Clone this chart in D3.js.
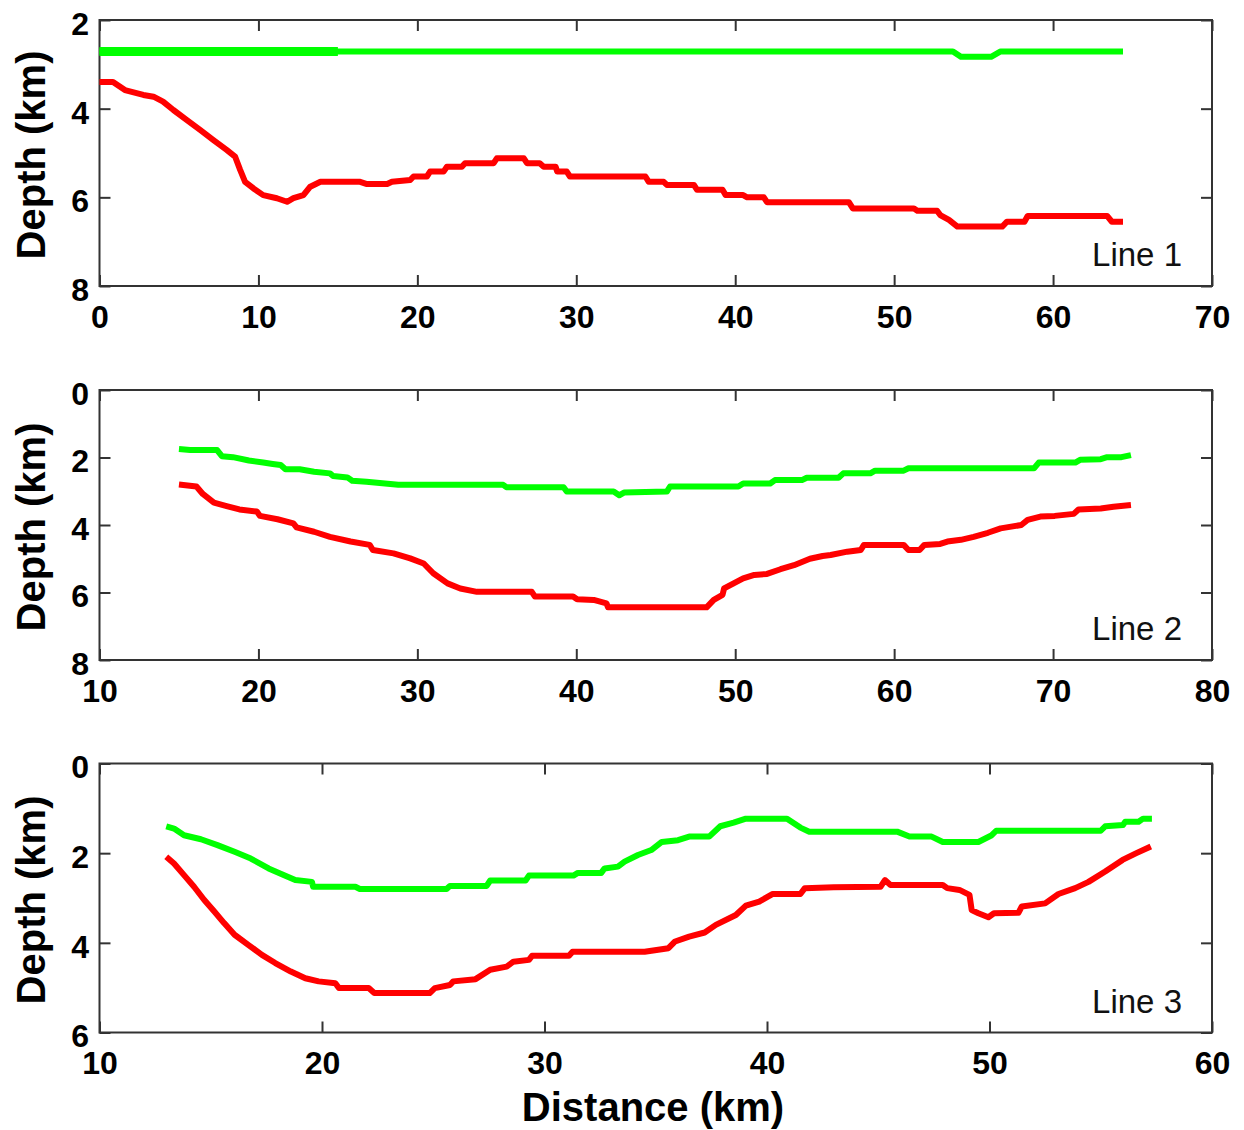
<!DOCTYPE html>
<html>
<head>
<meta charset="utf-8">
<script src="https://cdn.jsdelivr.net/npm/d3@7"></script>
<style>
  html, body { margin: 0; padding: 0; background: #fff; }
  svg { display: block; }
  .tick text { font-family: "Liberation Sans", Arial, Helvetica, sans-serif; font-weight: bold; font-size: 32px; fill: #000; }
  .tick line { stroke: #333; stroke-width: 2; }
  .axis-title { font-family: "Liberation Sans", Arial, Helvetica, sans-serif; font-weight: bold; font-size: 40px; fill: #000; }
  .line-name { font-family: "Liberation Sans", Arial, Helvetica, sans-serif; font-size: 33px; fill: #111; }
</style>
</head>
<body>
<svg id="chart" width="1244" height="1130"></svg>
<script>
// Profile names
const profileNames = ["Line 1", "Line 2", "Line 3"];

// Axis ranges and ticks (distance in km, depth in km)
const line1XTicks = [0, 10, 20, 30, 40, 50, 60, 70];
const line1YTicks = [2, 4, 6, 8];
const line2XTicks = [10, 20, 30, 40, 50, 60, 70, 80];
const line2YTicks = [0, 2, 4, 6, 8];
const line3XTicks = [10, 20, 30, 40, 50, 60];
const line3YTicks = [0, 2, 4, 6];

// Line 1: upper horizon (green) and deeper horizon (red), [distance, depth]
const line1Green = [[0,2.71],[15,2.71],[53.7,2.71],[54.2,2.83],[56.1,2.83],[56.7,2.71],[64.4,2.71]];
const line1Red = [[0,3.4],[0.85,3.4],[1.6,3.58],[2.76,3.69],[3.4,3.73],[4.0,3.84],[4.65,4.03],[5.5,4.26],[6.33,4.48],[7.17,4.71],[8.0,4.93],[8.53,5.08],[8.85,5.38],[9.16,5.65],[9.69,5.8],[10.3,5.95],[11.16,6.02],[11.8,6.1],[12.2,6.02],[12.83,5.95],[13.26,5.76],[13.9,5.65],[16.4,5.65],[16.83,5.7],[18.1,5.7],[18.4,5.65],[19.55,5.61],[19.76,5.53],[20.6,5.53],[20.8,5.42],[21.65,5.42],[21.86,5.31],[22.8,5.31],[23.0,5.23],[24.8,5.23],[25.0,5.12],[26.7,5.12],[26.9,5.23],[27.7,5.23],[27.95,5.31],[28.7,5.31],[28.8,5.42],[29.4,5.42],[29.6,5.53],[34.35,5.53],[34.56,5.65],[35.5,5.65],[35.7,5.72],[37.4,5.72],[37.6,5.83],[39.2,5.83],[39.4,5.95],[40.5,5.95],[40.75,6.0],[41.8,6.0],[42.0,6.11],[47.15,6.11],[47.4,6.25],[51.25,6.25],[51.46,6.3],[52.7,6.3],[52.9,6.4],[53.45,6.51],[53.98,6.66],[56.8,6.66],[57.1,6.55],[58.2,6.55],[58.4,6.42],[63.4,6.42],[63.7,6.55],[64.4,6.55]];
// Stretch of Line 1 green horizon traced with a heavier pen
const line1GreenHeavyEnd = 15;

// Line 2
const line2Green = [[15.0,1.75],[15.7,1.78],[17.4,1.78],[17.7,1.96],[18.4,1.99],[19.4,2.09],[20.3,2.15],[20.9,2.19],[21.4,2.22],[21.7,2.35],[22.6,2.35],[23.5,2.42],[24.5,2.47],[24.7,2.55],[25.6,2.59],[25.9,2.69],[26.8,2.72],[28.8,2.81],[35.4,2.81],[35.6,2.88],[39.2,2.88],[39.4,3.01],[42.35,3.01],[42.7,3.12],[43.0,3.04],[45.7,3.01],[45.9,2.86],[50.2,2.86],[50.5,2.77],[52.2,2.77],[52.5,2.67],[54.2,2.67],[54.5,2.6],[56.5,2.6],[56.8,2.47],[58.5,2.47],[58.8,2.39],[60.6,2.39],[60.9,2.32],[68.8,2.32],[69.1,2.15],[71.4,2.15],[71.7,2.07],[73.0,2.05],[73.4,1.99],[74.3,1.99],[74.9,1.93]];
const line2Red = [[15.0,2.8],[16.1,2.86],[16.5,3.08],[17.2,3.34],[18.0,3.44],[18.8,3.54],[19.9,3.6],[20.1,3.73],[21.2,3.83],[22.2,3.95],[22.4,4.07],[23.5,4.2],[24.5,4.35],[25.8,4.49],[27.0,4.59],[27.2,4.74],[28.5,4.84],[29.55,4.99],[30.4,5.14],[31.0,5.43],[31.9,5.73],[32.7,5.88],[33.75,5.98],[37.2,5.98],[37.4,6.12],[39.8,6.12],[40.05,6.2],[41.1,6.22],[41.9,6.32],[42.0,6.44],[48.2,6.44],[48.65,6.22],[49.2,6.07],[49.3,5.88],[49.9,5.73],[50.5,5.58],[51.2,5.48],[52.0,5.45],[52.85,5.31],[53.7,5.19],[54.7,5.0],[55.5,4.92],[56.0,4.89],[57.05,4.79],[57.9,4.74],[58.1,4.59],[60.6,4.59],[60.9,4.74],[61.6,4.74],[61.9,4.59],[62.9,4.56],[63.35,4.49],[64.2,4.44],[65.0,4.35],[65.9,4.23],[66.7,4.1],[68.0,4.0],[68.4,3.85],[69.2,3.75],[70.1,3.73],[71.3,3.67],[71.6,3.54],[73.0,3.51],[73.8,3.46],[74.9,3.41]];

// Line 3
const line3Green = [[13.0,1.4],[13.35,1.45],[13.8,1.6],[14.56,1.69],[15.3,1.82],[16.07,1.97],[16.8,2.12],[17.6,2.34],[18.3,2.49],[18.8,2.6],[19.55,2.64],[19.6,2.75],[21.5,2.75],[21.7,2.8],[25.6,2.8],[25.75,2.73],[27.4,2.73],[27.56,2.61],[29.15,2.61],[29.3,2.5],[31.3,2.5],[31.5,2.44],[32.55,2.44],[32.7,2.34],[33.3,2.3],[33.6,2.19],[34.2,2.04],[34.8,1.93],[35.27,1.75],[36.0,1.71],[36.5,1.63],[37.4,1.63],[37.9,1.4],[38.5,1.32],[39.05,1.23],[40.9,1.23],[41.5,1.43],[41.9,1.52],[45.85,1.52],[46.4,1.63],[47.4,1.63],[47.9,1.75],[49.5,1.75],[50.1,1.6],[50.3,1.5],[55.0,1.5],[55.2,1.4],[56.0,1.37],[56.1,1.3],[56.7,1.3],[56.9,1.23],[57.3,1.23]];
const line3Red = [[13.0,2.08],[13.35,2.23],[13.8,2.49],[14.25,2.75],[14.7,3.04],[15.16,3.3],[15.6,3.56],[16.07,3.82],[16.7,4.05],[17.3,4.27],[17.9,4.45],[18.6,4.64],[19.25,4.79],[19.85,4.86],[20.6,4.9],[20.76,5.01],[22.1,5.01],[22.35,5.12],[24.84,5.12],[25.07,5.01],[25.75,4.94],[25.9,4.86],[26.9,4.81],[27.56,4.6],[28.3,4.53],[28.6,4.42],[29.3,4.38],[29.44,4.29],[31.1,4.29],[31.26,4.2],[34.5,4.2],[35.57,4.12],[35.87,3.97],[36.5,3.86],[37.2,3.77],[37.7,3.6],[38.6,3.38],[39.05,3.17],[39.65,3.08],[40.26,2.91],[41.5,2.91],[41.7,2.78],[43.0,2.76],[45.1,2.75],[45.3,2.6],[45.55,2.71],[47.9,2.71],[48.1,2.78],[48.65,2.82],[49.1,2.93],[49.2,3.27],[49.5,3.34],[49.95,3.43],[50.2,3.34],[51.3,3.33],[51.45,3.19],[52.5,3.12],[53.1,2.91],[53.85,2.78],[54.45,2.64],[55.2,2.41],[55.98,2.15],[56.6,2.0],[57.25,1.85]];

// Panel frames in pixels
const plotLeft = 99.5, plotRight = 1212;
const panelBands = [[20, 286], [390, 660], [763.5, 1032.5]];
const tickLen = 11;

const panels = [
  { name: profileNames[0], xTicks: line1XTicks, yTicks: line1YTicks, green: line1Green, red: line1Red, heavyEnd: line1GreenHeavyEnd },
  { name: profileNames[1], xTicks: line2XTicks, yTicks: line2YTicks, green: line2Green, red: line2Red },
  { name: profileNames[2], xTicks: line3XTicks, yTicks: line3YTicks, green: line3Green, red: line3Red }
];

const svg = d3.select("#chart");

panels.forEach((p, i) => {
  const [top, bottom] = panelBands[i];
  const x = d3.scaleLinear()
    .domain([p.xTicks[0], p.xTicks[p.xTicks.length - 1]])
    .range([plotLeft, plotRight]);
  const y = d3.scaleLinear()
    .domain([p.yTicks[0], p.yTicks[p.yTicks.length - 1]])
    .range([top, bottom]);

  const g = svg.append("g");

  // bottom axis with labels, ticks pointing inward
  const bx = g.append("g")
    .attr("transform", `translate(0,${bottom})`)
    .call(d3.axisBottom(x).tickValues(p.xTicks).tickSize(-tickLen).tickPadding(19).tickFormat(d3.format("d")));
  // top axis, ticks only
  const tx = g.append("g")
    .attr("transform", `translate(0,${top})`)
    .call(d3.axisTop(x).tickValues(p.xTicks).tickSize(-tickLen).tickFormat(""));
  // left axis with labels
  const ly = g.append("g")
    .attr("transform", `translate(${plotLeft},0)`)
    .call(d3.axisLeft(y).tickValues(p.yTicks).tickSize(-tickLen).tickPadding(10.5).tickFormat(d3.format("d")));
  ly.selectAll(".tick text").attr("dy", "0.45em");
  // right axis, ticks only
  const ry = g.append("g")
    .attr("transform", `translate(${plotRight},0)`)
    .call(d3.axisRight(y).tickValues(p.yTicks).tickSize(-tickLen).tickFormat(""));

  [bx, tx, ly, ry].forEach(a => {
    a.select(".domain").remove();
    a.attr("font-size", null).attr("font-family", null);
  });

  // frame
  g.append("rect")
    .attr("x", plotLeft).attr("y", top)
    .attr("width", plotRight - plotLeft).attr("height", bottom - top)
    .attr("fill", "none").attr("stroke", "#333").attr("stroke-width", 2);

  // y axis title
  g.append("text")
    .attr("class", "axis-title")
    .attr("text-anchor", "middle")
    .attr("transform", `translate(45,${(top + bottom) / 2 + 2}) rotate(-90)`)
    .text("Depth (km)");

  const line = d3.line().x(d => x(d[0])).y(d => y(d[1]));

  // upper horizon
  g.append("path")
    .datum(p.green)
    .attr("d", line)
    .attr("fill", "none").attr("stroke", "#00ff00")
    .attr("stroke-width", 6).attr("stroke-linejoin", "round");
  if (p.heavyEnd !== undefined) {
    g.append("path")
      .datum(p.green.filter(d => d[0] <= p.heavyEnd))
      .attr("d", line)
      .attr("fill", "none").attr("stroke", "#00ff00")
      .attr("stroke-width", 9);
  }

  // deeper horizon
  g.append("path")
    .datum(p.red)
    .attr("d", line)
    .attr("fill", "none").attr("stroke", "#ff0000")
    .attr("stroke-width", 6).attr("stroke-linejoin", "round");

  // profile name
  g.append("text")
    .attr("class", "line-name")
    .attr("text-anchor", "end")
    .attr("x", 1182)
    .attr("y", bottom - 20)
    .text(p.name);
});

// shared x axis title
svg.append("text")
  .attr("class", "axis-title")
  .attr("text-anchor", "middle")
  .attr("x", 653)
  .attr("y", 1121)
  .text("Distance (km)");
</script>
</body>
</html>
